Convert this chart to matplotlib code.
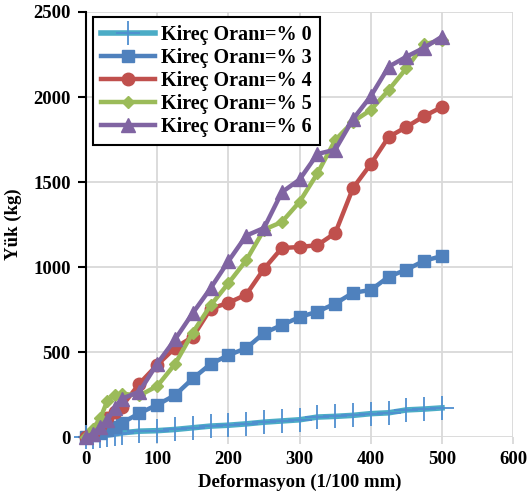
import matplotlib
matplotlib.use("Agg")
import matplotlib.pyplot as plt

plt.rcParams['font.family'] = ['Liberation Serif', 'DejaVu Serif']
plt.rcParams['font.weight'] = 'bold'

# deformation values (1/100 mm)
deformasyon = [0, 10, 20, 30, 40, 50, 75, 100, 125, 150, 175, 200, 225,
               250, 275, 300, 325, 350, 375, 400, 425, 450, 475, 500]

# load (kg) for each lime ratio
yuk_0 = [0, 3, 8, 12, 18, 25, 35, 38, 45, 55, 65, 70, 78,
         88, 95, 102, 118, 122, 128, 138, 143, 160, 165, 172]
yuk_3 = [0, 10, 25, 40, 60, 82, 141, 190, 247, 345, 430, 482, 523,
         612, 659, 706, 738, 785, 849, 865, 943, 985, 1037, 1065]
yuk_4 = [0, 25, 65, 110, 150, 180, 315, 425, 525, 590, 755, 790, 838,
         990, 1112, 1118, 1129, 1200, 1465, 1606, 1765, 1824, 1888, 1941]
yuk_5 = [0, 50, 110, 215, 245, 255, 245, 300, 430, 615, 775, 905, 1040,
         1220, 1265, 1384, 1551, 1747, 1855, 1924, 2041, 2169, 2310, 2335]
yuk_6 = [0, 20, 60, 100, 170, 225, 268, 432, 575, 730, 876, 1035, 1185,
         1230, 1440, 1515, 1665, 1690, 1870, 2005, 2178, 2237, 2290, 2355]

labels = ['Kireç Oranı=% 0', 'Kireç Oranı=% 3', 'Kireç Oranı=% 4',
          'Kireç Oranı=% 5', 'Kireç Oranı=% 6']
colors = ['#4BACC6', '#4F81BD', '#C0504D', '#9BBB59', '#8064A2']
markers = ['+', 's', 'o', 'D', '^']
sizes = [17, 8, 9, 6, 10]

fig = plt.figure(figsize=(5.28, 4.99), dpi=100)
ax = fig.add_axes([0.163, 0.124, 0.809, 0.852])

series = [yuk_0, yuk_3, yuk_4, yuk_5, yuk_6]
for vals, lab, c, m, s in zip(series, labels, colors, markers, sizes):
    if m == '+':
        ax.plot(deformasyon, vals, color=c, lw=4, marker=m, ms=s,
                mec='#4F8FD0', mew=1.3, label=lab, clip_on=False, zorder=3)
    else:
        ax.plot(deformasyon, vals, color=c, lw=3.2, marker=m, ms=s,
                mec=c, mfc=c, label=lab, clip_on=False, zorder=3)

ax.set_xlim(0, 600)
ax.set_ylim(0, 2500)
ax.set_xticks(range(0, 601, 100))
ax.set_yticks(range(0, 2501, 500))
ax.grid(True, color='#d9d9d9', lw=1.3)
ax.set_axisbelow(True)

for side in ['top', 'right', 'bottom']:
    ax.spines[side].set_visible(False)
ax.spines['left'].set_linewidth(1.5)
ax.tick_params(axis='y', length=6, width=1.5, labelsize=13.5, pad=5)
ax.tick_params(axis='x', length=5, width=1.3, color='#d9d9d9', labelsize=13.5, pad=5)

ax.set_xlabel('Deformasyon (1/100 mm)', fontsize=13.5, fontweight='bold', labelpad=4)
ax.set_ylabel('Yük (kg)', fontsize=13.5, fontweight='bold', labelpad=8)

leg = ax.legend(loc='upper left', bbox_to_anchor=(0.016, 0.988), borderaxespad=0,
                fancybox=False, framealpha=1, edgecolor='black', fontsize=14.5,
                handlelength=2.7, labelspacing=0.15, borderpad=0.4, handletextpad=0.3)
leg.get_frame().set_linewidth(1.5)

fig.savefig('out.png', dpi=100)
